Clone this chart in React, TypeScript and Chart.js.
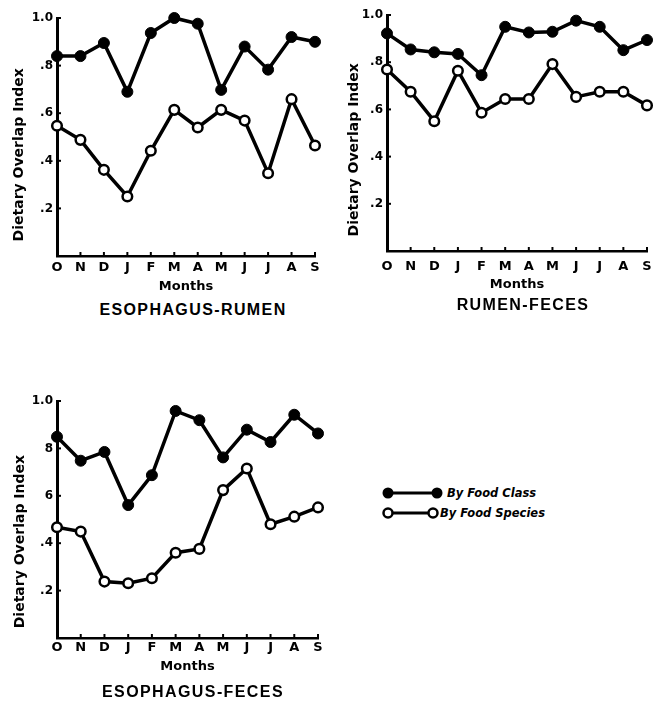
import React, { useEffect, useRef } from "react";
import { Chart, registerables } from "chart.js";

Chart.register(...registerables);

const months = ["O", "N", "D", "J", "F", "M", "A", "M", "J", "J", "A", "S"];

const esoRumenClass = [0.84, 0.84, 0.895, 0.69, 0.937, 1.0, 0.976, 0.698, 0.88, 0.783, 0.92, 0.9];
const esoRumenSpecies = [0.547, 0.488, 0.362, 0.25, 0.442, 0.614, 0.54, 0.614, 0.569, 0.348, 0.659, 0.464];

const rumenFecesClass = [0.922, 0.854, 0.842, 0.835, 0.745, 0.95, 0.926, 0.929, 0.976, 0.95, 0.851, 0.894];
const rumenFecesSpecies = [0.769, 0.675, 0.55, 0.764, 0.586, 0.644, 0.644, 0.792, 0.653, 0.675, 0.675, 0.617];

const esoFecesClass = [0.849, 0.748, 0.785, 0.561, 0.687, 0.958, 0.919, 0.762, 0.879, 0.827, 0.942, 0.863];
const esoFecesSpecies = [0.467, 0.449, 0.238, 0.231, 0.252, 0.36, 0.376, 0.624, 0.715, 0.48, 0.512, 0.551];

const yTickLabels = ["", ".2", ".4", ".6", ".8", "1.0"];
const yTickLabelsFaded = ["", ".2", ".4", "6", "8", "1.0"];

const seriesNames = ["By Food Class", "By Food Species"];
const yAxisTitle = "Dietary Overlap Index";
const xAxisTitle = "Months";

const FONT = "'DejaVu Sans', Verdana, sans-serif";
const TITLE_FONT = "'Liberation Sans', Arial, Helvetica, sans-serif";

const inwardTicks = {
  id: "inwardTicks",
  beforeDatasetsDraw(chart: any) {
    const { ctx } = chart;
    const xs = chart.scales.x;
    const ys = chart.scales.y;
    ctx.save();
    ctx.strokeStyle = "#000";
    ctx.lineWidth = 2;
    xs.ticks.forEach((_: any, i: number) => {
      if (i === 0) return;
      const px = xs.getPixelForTick(i);
      ctx.beginPath();
      ctx.moveTo(px, xs.top);
      ctx.lineTo(px, xs.top - 4);
      ctx.stroke();
    });
    ys.ticks.forEach((t: any, i: number) => {
      if (t.value === 0) return;
      const py = ys.getPixelForTick(i);
      ctx.beginPath();
      ctx.moveTo(ys.right, py);
      ctx.lineTo(ys.right + 4, py);
      ctx.stroke();
    });
    ctx.restore();
  },
};

type PanelProps = {
  left: number;
  top: number;
  width: number;
  height: number;
  padTop: number;
  padRight: number;
  padBottom: number;
  classData: number[];
  speciesData: number[];
  tickLabels: string[];
  xTickPad: number;
  xTitlePad: number;
  yTitlePad: number;
  yTitleText: string;
};

function Panel(p: PanelProps) {
  const ref = useRef<HTMLCanvasElement | null>(null);
  useEffect(() => {
    if (!ref.current) return;
    const chart = new Chart(ref.current, {
      type: "line",
      data: {
        labels: months,
        datasets: [
          {
            label: seriesNames[0],
            data: p.classData,
            borderColor: "#000",
            borderWidth: 3.5,
            pointBackgroundColor: "#000",
            pointBorderColor: "#000",
            pointBorderWidth: 1,
            pointRadius: 5.5,
            tension: 0,
            clip: false as any,
          },
          {
            label: seriesNames[1],
            data: p.speciesData,
            borderColor: "#000",
            borderWidth: 3.5,
            pointBackgroundColor: "#fff",
            pointBorderColor: "#000",
            pointBorderWidth: 2.5,
            pointRadius: 4.8,
            tension: 0,
            clip: false as any,
          },
        ],
      },
      options: {
        responsive: false,
        animation: false,
        layout: { padding: { left: 0, top: p.padTop, right: p.padRight, bottom: p.padBottom } },
        plugins: { legend: { display: false }, tooltip: { enabled: false }, title: { display: false } },
        scales: {
          x: {
            type: "category",
            offset: false,
            grid: { display: false, drawTicks: false },
            border: { display: true, color: "#000", width: 2.5 },
            ticks: {
              color: "#000",
              font: { family: FONT, size: 13, weight: "bold" },
              padding: p.xTickPad,
              maxRotation: 0,
              autoSkip: false,
            },
            title: {
              display: true,
              text: xAxisTitle,
              color: "#000",
              font: { family: FONT, size: 13, weight: "bold" },
              padding: { top: 0, bottom: p.xTitlePad },
            },
            afterFit: (s: any) => {
              s.height = 44;
            },
          },
          y: {
            min: 0,
            max: 1,
            grid: { display: false, drawTicks: false },
            border: { display: true, color: "#000", width: 3 },
            ticks: {
              stepSize: 0.2,
              color: "#000",
              font: { family: FONT, size: 12, weight: "bold" },
              padding: 4,
              callback: (v: any) => p.tickLabels[Math.round(Number(v) * 5)] ?? "",
            },
            title: {
              display: true,
              text: p.yTitleText,
              align: "start",
              color: "#000",
              font: { family: FONT, size: 14, weight: "bold" },
              padding: { top: p.yTitlePad, bottom: 0 },
            },
            afterFit: (s: any) => {
              s.width = 57;
            },
          },
        },
      },
      plugins: [inwardTicks],
    } as any);
    return () => chart.destroy();
  }, []);
  return (
    <canvas
      ref={ref}
      width={p.width}
      height={p.height}
      style={{ position: "absolute", left: p.left, top: p.top, width: p.width, height: p.height }}
    />
  );
}

function Title({ text, cx, cy }: { text: string; cx: number; cy: number }) {
  return (
    <div
      style={{
        position: "absolute",
        left: cx,
        top: cy,
        transform: "translate(-50%, -50%)",
        fontFamily: TITLE_FONT,
        fontWeight: "bold",
        fontSize: 16,
        letterSpacing: "1.4px",
        whiteSpace: "nowrap",
        color: "#000",
        lineHeight: 1,
      }}
    >
      {text}
    </div>
  );
}

function Legend() {
  const rowStyle: React.CSSProperties = { position: "absolute", left: 380, height: 16, display: "flex", alignItems: "center" };
  const textStyle: React.CSSProperties = {
    fontFamily: FONT,
    fontWeight: "bold",
    fontStyle: "italic",
    fontSize: 11.5,
    color: "#000",
    whiteSpace: "nowrap",
  };
  return (
    <>
      <div style={{ ...rowStyle, top: 485 }}>
        <svg width={64} height={16}>
          <line x1={8} y1={8} x2={57} y2={8} stroke="#000" strokeWidth={3} />
          <circle cx={8} cy={8} r={5.5} fill="#000" />
          <circle cx={57} cy={8} r={5.5} fill="#000" />
        </svg>
        <span style={{ ...textStyle, marginLeft: 3 }}>{seriesNames[0]}</span>
      </div>
      <div style={{ ...rowStyle, top: 505 }}>
        <svg width={60} height={16}>
          <line x1={8} y1={8} x2={53} y2={8} stroke="#000" strokeWidth={3} />
          <circle cx={8} cy={8} r={4.5} fill="#fff" stroke="#000" strokeWidth={2.5} />
          <circle cx={53} cy={8} r={4.5} fill="#fff" stroke="#000" strokeWidth={2.5} />
        </svg>
        <span style={{ ...textStyle, marginLeft: 0 }}>{seriesNames[1]}</span>
      </div>
    </>
  );
}

export default function App() {
  return (
    <div style={{ position: "absolute", left: 0, top: 0, width: 661, height: 706, background: "#fff", overflow: "hidden" }}>
      <Panel
        left={0}
        top={0}
        width={330}
        height={300}
        padTop={18}
        padRight={15}
        padBottom={0}
        classData={esoRumenClass}
        speciesData={esoRumenSpecies}
        tickLabels={yTickLabels}
        xTickPad={4}
        xTitlePad={6}
        yTitlePad={11}
        yTitleText={"   " + yAxisTitle}
      />
      <Panel
        left={330}
        top={0}
        width={331}
        height={300}
        padTop={15}
        padRight={14}
        padBottom={5}
        classData={rumenFecesClass}
        speciesData={rumenFecesSpecies}
        tickLabels={yTickLabels}
        xTickPad={8}
        xTitlePad={3}
        yTitlePad={16}
        yTitleText={"   " + yAxisTitle}
      />
      <Panel
        left={0}
        top={370}
        width={330}
        height={320}
        padTop={31}
        padRight={12}
        padBottom={8}
        classData={esoFecesClass}
        speciesData={esoFecesSpecies}
        tickLabels={yTickLabelsFaded}
        xTickPad={2}
        xTitlePad={8}
        yTitlePad={12}
        yTitleText={"  " + yAxisTitle}
      />
      <Title text="ESOPHAGUS-RUMEN" cx={193} cy={310} />
      <Title text="RUMEN-FECES" cx={523} cy={305} />
      <Title text="ESOPHAGUS-FECES" cx={193} cy={692} />
      <Legend />
    </div>
  );
}
